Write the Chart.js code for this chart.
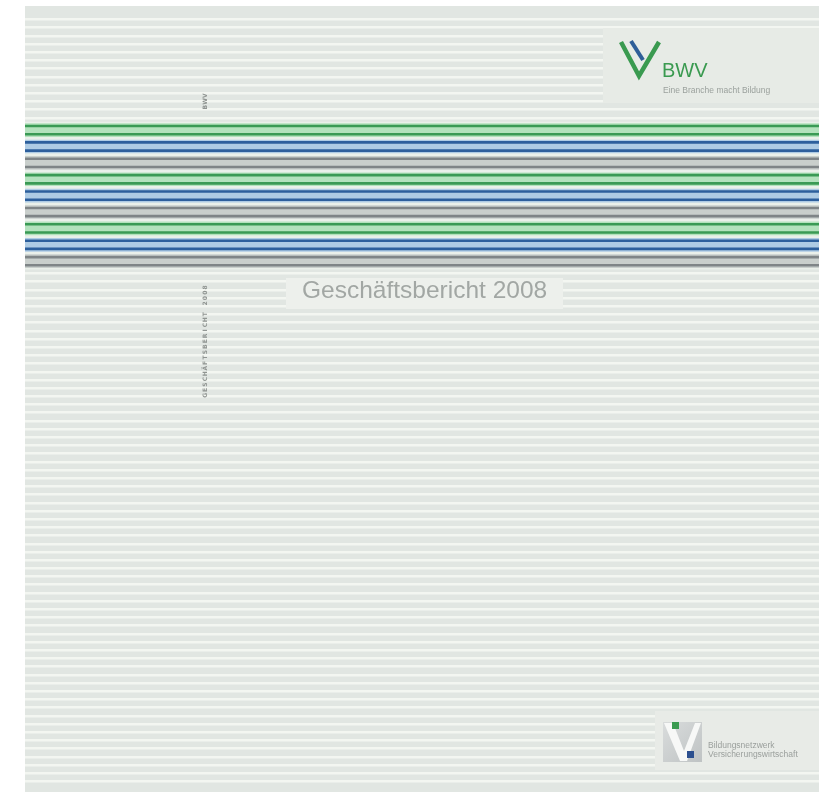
<!DOCTYPE html>
<html lang="de">
<head>
<meta charset="utf-8">
<title>Geschäftsbericht 2008</title>
<script src="https://cdn.jsdelivr.net/npm/chart.js"></script>
<style>
  body{margin:0;background:#fff}
  #chart{display:block}
</style>
</head>
<body>

<canvas id="chart" width="819" height="792"></canvas>

<script>
// rows of the cover, counted from the top (one row = one stripe)
const lineRows  = [14,15,16,17,18,19,20,21,22,23,24,25,26,27,28,29,30,31];
const lineGroup = ['green','green','blue','blue','gray','gray',
                   'green','green','blue','blue','gray','gray',
                   'green','green','blue','blue','gray','gray'];
const rowMin = -0.65, rowMax = 95.3;

const title    = 'Geschäftsbericht 2008';
const spine    = 'GESCHÄFTSBERICHT 2008';
const brand    = 'BWV';
const claim    = 'Eine Branche macht Bildung';
const network  = ['Bildungsnetzwerk','Versicherungswirtschaft'];

const palette = {
  green:{dark:'#3a9a55', light:'#b3e2bd'},
  blue: {dark:'#2d5f9c', light:'#aecbe4'},
  gray: {dark:'#7f8587', light:'#c9cfcc'}
};

const seg = r => [{x:0,y:r},{x:1,y:r}];
const datasets = [];

// pale base under the coloured block
lineRows.forEach(r=>{
  datasets.push({data:seg(r), borderColor:'#eaf0ea', borderWidth:8.6, order:3});
});
// light halo of every pair
for(let i=0;i<lineRows.length;i+=2){
  const c = palette[lineGroup[i]].light;
  [lineRows[i], (lineRows[i]+lineRows[i+1])/2, lineRows[i+1]].forEach(r=>{
    datasets.push({data:seg(r), borderColor:c, borderWidth:5.5, order:2});
  });
}
// dark lines
lineRows.forEach((r,i)=>{
  datasets.push({data:seg(r), borderColor:palette[lineGroup[i]].dark, borderWidth:2.6, order:1});
});

const cover = {
  id:'cover',
  beforeDraw(chart){
    const {ctx, chartArea:a} = chart;
    ctx.save();
    ctx.fillStyle = '#fff';
    ctx.fillRect(0,0,chart.width,chart.height);
    ctx.fillStyle = '#e1e6e2';
    ctx.fillRect(a.left,a.top,a.right-a.left,a.bottom-a.top);
    ctx.restore();
  },
  afterDraw(chart){
    const {ctx} = chart;
    ctx.save();

    // title plate
    ctx.fillStyle = '#edf0ec';
    ctx.fillRect(286,278,277,31);
    ctx.fillStyle = '#a2a7a4';
    ctx.font = '24.5px "Liberation Sans", Arial, sans-serif';
    ctx.textBaseline = 'alphabetic';
    ctx.fillText(title,302,298);

    // spine texts
    ctx.fillStyle = '#8f9491';
    ctx.font = 'bold 6px "DejaVu Sans", sans-serif';
    ctx.textAlign = 'center';
    const vert = (txt, x, yBottom, step) => {
      ctx.save();
      ctx.translate(x, yBottom);
      ctx.rotate(-Math.PI/2);
      [...txt].forEach((ch,i)=>ctx.fillText(ch, i*step + step/2, 2));
      ctx.restore();
    };
    vert(spine, 205, 398, 5.4);
    vert(brand, 205, 110, 5.7);
    ctx.textAlign = 'left';

    // BWV logo plate
    ctx.fillStyle = '#e7ebe6';
    ctx.fillRect(603,28,216,75);
    ctx.lineJoin = 'miter';
    ctx.lineCap = 'butt';
    ctx.strokeStyle = '#2e5e98';
    ctx.lineWidth = 4;
    ctx.beginPath(); ctx.moveTo(631,41); ctx.lineTo(643,60); ctx.stroke();
    ctx.strokeStyle = '#3a9a50';
    ctx.lineWidth = 4.5;
    ctx.beginPath(); ctx.moveTo(621,42); ctx.lineTo(639,76); ctx.lineTo(659,42); ctx.stroke();
    ctx.fillStyle = '#3a9a50';
    ctx.font = '20px "Liberation Sans", Arial, sans-serif';
    ctx.fillText(brand,662,77);
    ctx.fillStyle = '#9ba19d';
    ctx.font = '8.5px "Liberation Sans", Arial, sans-serif';
    ctx.fillText(claim,663,93);

    // network logo plate
    ctx.fillStyle = '#e8ebe7';
    ctx.fillRect(655,711,164,59);
    const g = ctx.createLinearGradient(663,722,702,762);
    g.addColorStop(0,'#d9dcdc'); g.addColorStop(1,'#bfc3c4');
    ctx.fillStyle = g;
    ctx.fillRect(663,722,39,40);
    ctx.fillStyle = '#f7f8f7';
    ctx.beginPath();
    ctx.moveTo(664,723); ctx.lineTo(673,723); ctx.lineTo(684,751);
    ctx.lineTo(695,723); ctx.lineTo(701,723); ctx.lineTo(687,761);
    ctx.lineTo(680,761); ctx.closePath(); ctx.fill();
    ctx.fillStyle = '#3a9a50'; ctx.fillRect(672,722,7,7);
    ctx.fillStyle = '#2c4f8f'; ctx.fillRect(687,751,7,7);
    ctx.fillStyle = '#9a9f9c';
    ctx.font = '8.5px "Liberation Sans", Arial, sans-serif';
    ctx.fillText(network[0],708,748);
    ctx.fillText(network[1],708,757);

    ctx.restore();
  }
};

new Chart(document.getElementById('chart'),{
  type:'line',
  data:{datasets},
  plugins:[cover],
  options:{
    responsive:false,
    animation:false,
    events:[],
    layout:{padding:{left:25,top:6,right:0,bottom:0}},
    elements:{point:{radius:0}, line:{tension:0, borderCapStyle:'butt', fill:false}},
    plugins:{legend:{display:false}, tooltip:{enabled:false}},
    scales:{
      x:{type:'linear', min:0, max:1, display:false},
      y:{
        type:'linear', min:rowMin, max:rowMax, reverse:true,
        ticks:{display:false, stepSize:1, maxTicksLimit:200},
        border:{display:false},
        grid:{
          drawTicks:false, lineWidth:2.5,
          color:c => Number.isInteger(c.tick.value) ? '#f3f6f1' : 'rgba(0,0,0,0)'
        },
        afterFit(s){ s.width = 0; }
      }
    }
  }
});
</script>

</body>
</html>
